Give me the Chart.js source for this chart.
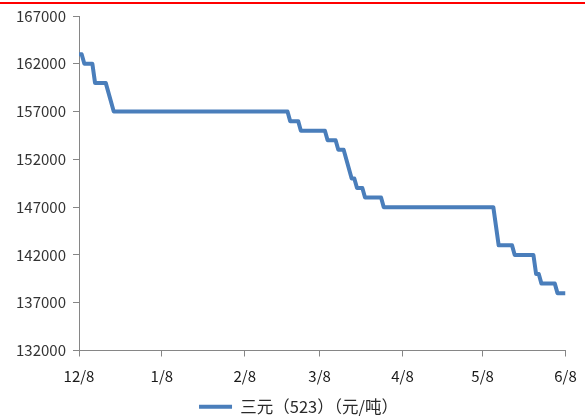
<!DOCTYPE html>
<html>
<head>
<meta charset="utf-8">
<script src="https://cdn.jsdelivr.net/npm/chart.js@4/dist/chart.umd.min.js"></script>
<style>
  html, body { margin: 0; padding: 0; background: #ffffff; }
  #wrap { position: relative; width: 585px; height: 418px; }
  #rule { position: absolute; left: 0; top: 2px; width: 585px; height: 2px; background: #ff0000; }
  canvas { display: block; }
</style>
</head>
<body>
<div id="wrap">
  <div id="rule"></div>
  <canvas id="chart" width="585" height="418"></canvas>
</div>
<script>
// Ternary precursor (523) price, yuan per tonne: dates where the price line turns
const priceDates = [
  '2018-12-08', '2018-12-09', '2018-12-10', '2018-12-13', '2018-12-14', '2018-12-18',
  '2018-12-21', '2019-02-24', '2019-02-25', '2019-02-28', '2019-03-01', '2019-03-10',
  '2019-03-11', '2019-03-14', '2019-03-15', '2019-03-17', '2019-03-20', '2019-03-21',
  '2019-03-22', '2019-03-24', '2019-03-25', '2019-03-31', '2019-04-01', '2019-05-12',
  '2019-05-14', '2019-05-19', '2019-05-20', '2019-05-27', '2019-05-28', '2019-05-29',
  '2019-05-30', '2019-06-04', '2019-06-05', '2019-06-08'
];
const prices = [
  163000, 163000, 162000, 162000, 160000, 160000,
  157000, 157000, 156000, 156000, 155000, 155000,
  154000, 154000, 153000, 153000, 150000, 150000,
  149000, 149000, 148000, 148000, 147000, 147000,
  143000, 143000, 142000, 142000, 140000, 140000,
  139000, 139000, 138000, 138000
];

// Month ticks on the date axis
const tickDates = ['2018-12-08', '2019-01-08', '2019-02-08', '2019-03-08', '2019-04-08', '2019-05-08', '2019-06-08'];
const tickLabels = ['12/8', '1/8', '2/8', '3/8', '4/8', '5/8', '6/8'];

const seriesName = '三元（523）（元/吨）';
const yMin = 132000;
const yMax = 167000;
const yStep = 5000;

const LINE_BLUE = '#4a7ebb';
const AXIS_GREY = '#868686';
const FONT = '"Noto Sans CJK SC", "Noto Sans", sans-serif';

// Days elapsed since the first date, so the x axis is a true calendar scale
function dayIndex(iso) {
  const [y, m, d] = iso.split('-').map(Number);
  const [y0, m0, d0] = priceDates[0].split('-').map(Number);
  return Math.round((Date.UTC(y, m - 1, d) - Date.UTC(y0, m0 - 1, d0)) / 86400000);
}

const points = priceDates.map((d, i) => ({ x: dayIndex(d), y: prices[i] }));

// Centre the legend on the canvas (nudged slightly right) rather than on the padded layout box
const fullWidthLegend = {
  id: 'fullWidthLegend',
  afterLayout(chart) {
    const lg = chart.legend;
    if (!lg) return;
    lg.left = 6;
    lg.right = chart.width + 6;
    lg.width = chart.width;
  }
};

new Chart(document.getElementById('chart'), {
  type: 'line',
  data: {
    datasets: [{
      label: seriesName,
      data: points,
      borderColor: LINE_BLUE,
      backgroundColor: LINE_BLUE,
      borderWidth: 4,
      borderJoinStyle: 'round',
      pointRadius: 0,
      tension: 0,
      fill: false
    }]
  },
  plugins: [fullWidthLegend],
  options: {
    responsive: false,
    animation: false,
    devicePixelRatio: 1,
    layout: { padding: { top: 15, right: 19.5, left: 0, bottom: -7 } },
    plugins: {
      legend: {
        position: 'bottom',
        labels: {
          usePointStyle: true,
          pointStyle: 'line',
          pointStyleWidth: 33,
          padding: 6,
          color: '#2a2a2a',
          font: { family: FONT, size: 16.5 }
        }
      },
      tooltip: { enabled: false }
    },
    scales: {
      x: {
        type: 'linear',
        min: 0,
        max: dayIndex(tickDates[tickDates.length - 1]),
        afterBuildTicks: (scale) => {
          scale.ticks = tickDates.map(d => ({ value: dayIndex(d) }));
        },
        afterFit: (scale) => {
          scale.height = 42;
          scale.paddingLeft = 0;
          scale.paddingRight = 0;
        },
        ticks: {
          autoSkip: false,
          maxRotation: 0,
          padding: 11,
          color: '#1a1a1a',
          font: { family: FONT, size: 15 },
          callback: (value, index) => tickLabels[index]
        },
        grid: { drawOnChartArea: false, drawTicks: true, tickLength: 6, color: AXIS_GREY },
        border: { color: AXIS_GREY }
      },
      y: {
        min: yMin,
        max: yMax,
        afterFit: (scale) => { scale.width = 79; },
        ticks: {
          stepSize: yStep,
          padding: 7,
          color: '#333333',
          font: { family: FONT, size: 15 },
          callback: (value) => String(value)
        },
        grid: { drawOnChartArea: false, drawTicks: true, tickLength: 6, color: AXIS_GREY },
        border: { color: AXIS_GREY }
      }
    }
  }
});
</script>
</body>
</html>
